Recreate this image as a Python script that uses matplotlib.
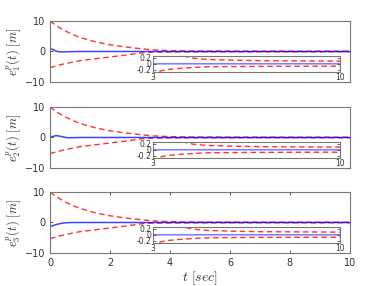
import numpy as np
import matplotlib.pyplot as plt

plt.rcParams['mathtext.fontset'] = 'cm'

# performance bounds, shared by all three panels
t_env = [0, 0.25, 0.5, 0.75, 1, 1.5, 2, 2.5, 3, 3.25, 3.5, 4, 4.5, 5, 6, 7, 8, 9, 10]
upper = [10, 8.2, 6.8, 5.6, 4.6, 3.2, 2.2, 1.5, 0.95, 0.7, 0.5, 0.28, 0.18, 0.14, 0.115, 0.1, 0.095, 0.09, 0.085]
lower = [-5.3, -4.6, -4.0, -3.5, -3.0, -2.4, -1.8, -1.2, -0.5, -0.24, -0.19, -0.15, -0.12, -0.10, -0.09, -0.085, -0.082, -0.08, -0.078]

# position errors
t_err = [0, 0.1, 0.2, 0.3, 0.4, 0.5, 0.6, 0.8, 1.0, 1.5, 2, 4, 6, 8, 10]
err1 = [1.0, 0.6, 0.15, -0.1, -0.15, -0.12, -0.08, -0.03, 0, 0, 0, 0, 0, 0, 0]
err2 = [0.0, 0.35, 0.6, 0.5, 0.25, 0.05, -0.08, -0.05, 0, 0, 0, 0, 0, 0, 0]
err3 = [-1.3, -1.0, -0.7, -0.45, -0.25, -0.12, -0.05, 0, 0, 0, 0, 0, 0, 0, 0]
errors = [err1, err2, err3]
ylabels = [r'$e_1^p(t)\ [m]$', r'$e_2^p(t)\ [m]$', r'$e_3^p(t)\ [m]$']

spine_c = '#777777'
text_c = '#333333'
dash = (4, 2.5)

fig = plt.figure(figsize=(3.86, 2.86), dpi=100)
bottoms = [0.7133, 0.4126, 0.1154]

for i in range(3):
    ax = fig.add_axes([0.1295, bottoms[i], 0.777, 0.2133])
    ax.plot(t_env, upper, color='red', lw=1, alpha=0.8, dashes=dash)
    ax.plot(t_env, lower, color='red', lw=1, alpha=0.8, dashes=dash)
    ax.plot(t_err, errors[i], color='blue', lw=1.1, alpha=0.75)
    ax.set_xlim(0, 10)
    ax.set_ylim(-10, 10)
    ax.set_yticks([-10, 0, 10])
    ax.set_ylabel(ylabels[i], fontsize=9, color=text_c, labelpad=1)
    for s in ax.spines.values():
        s.set_color(spine_c)
        s.set_linewidth(0.8)
    ax.tick_params(direction='in', labelsize=7, colors=text_c, length=2.5, width=0.6)
    if i < 2:
        ax.set_xticks([])
    else:
        ax.set_xticks([0, 2, 4, 6, 8, 10])
        ax.tick_params(axis='x', top=True)
        ax.set_xlabel(r'$t\ [sec]$', fontsize=10, color=text_c, labelpad=1)

    ins = ax.inset_axes([0.343, 0.172, 0.624, 0.254])
    ins.plot(t_env, upper, color='red', lw=1, alpha=0.8, dashes=dash)
    ins.plot(t_env, lower, color='red', lw=1, alpha=0.8, dashes=dash)
    ins.plot(t_err, errors[i], color='blue', lw=1.2, alpha=0.5)
    ins.set_xlim(3, 10)
    ins.set_ylim(-0.25, 0.25)
    ins.set_xticks([3, 10])
    ins.set_yticks([-0.2, 0, 0.2])
    ins.set_yticklabels(['-0.2', '0', '0.2'])
    ins.tick_params(direction='in', labelsize=5.5, colors=text_c, length=2, width=0.5,
                    right=True, pad=1)
    for s in ins.spines.values():
        s.set_color(spine_c)
        s.set_linewidth(0.8)

fig.savefig('out.png', dpi=100)
